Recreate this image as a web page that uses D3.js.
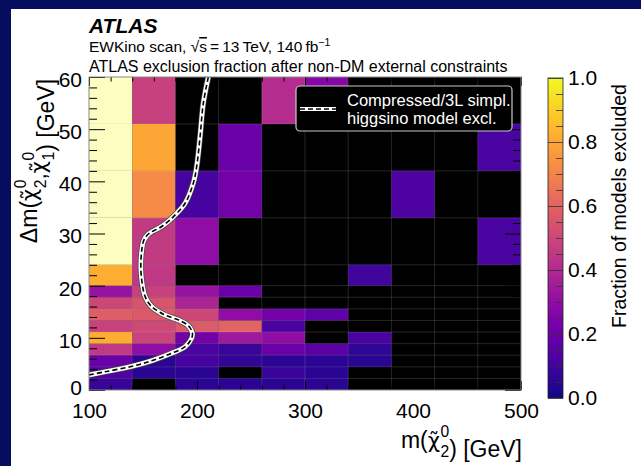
<!DOCTYPE html>
<html>
<head>
<meta charset="utf-8">
<script src="https://cdn.jsdelivr.net/npm/d3@7"></script>
<style>
  html, body { margin: 0; padding: 0; background: #060d5e; }
  svg { display: block; }
  text { font-family: "Liberation Sans", Arial, Helvetica, sans-serif; fill: #000; }
</style>
</head>
<body>
<svg id="chart" width="641" height="466"></svg>
<script>
// Bin edges of the scan grid
const xEdges = [100, 140, 180, 220, 260, 300, 340, 380, 420, 460, 500];
const yEdges = [0, 2.22, 4.44, 6.67, 8.89, 11.11, 13.33, 15.56, 17.78, 20, 24, 33, 42, 51, 60];

// Fraction of models excluded, one list per m(chi2) bin, Δm bins from bottom to top (null = no models)
const frac100 = [0.08, 0.14, 0.20, 0.45, 0.82, 0.48, 0.58, 0.50, 0.32, 0.82, 1, 1, 1, 1];
const frac140 = [null, 0.05, 0.05, 0.30, 0.49, 0.51, 0.56, 0.55, 0.48, 0.45, 0.46, 0.72, 0.80, 0.48];
const frac180 = [0.05, 0.05, 0.11, 0.12, 0.22, 0.57, 0.50, 0.38, 0.32, null, 0.30, 0.11, null, null];
const frac220 = [0.05, null, 0.07, 0.08, 0.34, 0.60, 0.30, null, 0.20, null, null, 0.22, 0.20, null];
const frac260 = [0.05, 0.08, 0.05, 0.20, 0.30, 0.12, 0.22, null, null, null, null, null, null, 0.41];
const frac300 = [0.05, 0.05, 0.05, 0.16, null, null, 0.17, null, null, null, null, null, null, 0.27];
const frac340 = [null, null, 0.05, 0.06, 0.12, null, null, null, null, 0.10, null, null, null, null];
const frac380 = [null, null, null, null, null, null, null, null, null, null, null, 0.13, null, null];
const frac420 = [null, null, null, null, null, null, null, null, null, null, null, null, null, null];
const frac460 = [null, null, null, null, null, null, null, null, null, null, 0.12, null, 0.12, null];
const fractions = [frac100, frac140, frac180, frac220, frac260, frac300, frac340, frac380, frac420, frac460];

// Compressed/3L simplified higgsino exclusion contour: [m(chi2), Δm]
const contour = [
  [100, 2.9], [115, 3.5], [139, 4.5], [158, 5.6], [176, 7.0], [189, 8.3], [195, 9.9],
  [195.7, 11.0], [192, 12.3], [183, 13.4], [170, 14.4], [158, 16.0], [152, 17.9],
  [149, 20.8], [148, 23.3], [148.6, 26.3], [150.6, 28.6], [155, 29.9], [167, 31.3],
  [178, 33.2], [189, 35.8], [196.5, 39.6], [199.7, 42.8], [202.8, 48.5], [205.8, 54.9], [210.5, 60]
];

// Tick values
const xMajorTicks = [100, 200, 300, 400, 500];
const yMajorTicks = [0, 10, 20, 30, 40, 50, 60];
const zMajorTicks = [0, 0.2, 0.4, 0.6, 0.8, 1.0];

const svg = d3.select("#chart");
const W = 641, H = 466;
const plot = { left: 89, right: 521, top: 77, bottom: 390 };
const bar = { left: 548, right: 563, top: 78, bottom: 398 };
const tickFont = 21;

// page panel
svg.append("rect").attr("x", 0).attr("y", 0).attr("width", W).attr("height", H).attr("fill", "#060d5e");
svg.append("rect").attr("x", 11).attr("y", 9).attr("width", W - 11).attr("height", H - 9).attr("fill", "#fff");

const x = d3.scaleLinear().domain([100, 500]).range([plot.left, plot.right]);
const y = d3.scaleLinear().domain([0, 60]).range([plot.bottom, plot.top]);
const z = d3.scaleSequential(d3.interpolatePlasma).domain([0, 1]);
// fully excluded bins are shown in a pale tint
const cellFill = v => v >= 1 ? d3.interpolateRgb(z(v), "#fff")(0.72) : z(v);

// plot background (empty bins)
svg.append("rect")
  .attr("x", plot.left).attr("y", plot.top)
  .attr("width", plot.right - plot.left).attr("height", plot.bottom - plot.top)
  .attr("fill", "#000");

const cells = [];
fractions.forEach((col, i) => col.forEach((v, j) => {
  if (v !== null) cells.push({ x0: xEdges[i], x1: xEdges[i + 1], y0: yEdges[j], y1: yEdges[j + 1], v });
}));

svg.append("g").selectAll("rect").data(cells).join("rect")
  .attr("x", d => x(d.x0))
  .attr("y", d => y(d.y1))
  .attr("width", d => x(d.x1) - x(d.x0))
  .attr("height", d => y(d.y0) - y(d.y1))
  .attr("fill", d => cellFill(d.v));

// bin-edge grid
const grid = svg.append("g").attr("stroke", "#fff").attr("stroke-opacity", 0.14).attr("stroke-width", 1);
xEdges.slice(1, -1).forEach(e => grid.append("line")
  .attr("x1", x(e)).attr("x2", x(e)).attr("y1", plot.top).attr("y2", plot.bottom));
yEdges.slice(1, -1).forEach(e => grid.append("line")
  .attr("x1", plot.left).attr("x2", plot.right).attr("y1", y(e)).attr("y2", y(e)));

// exclusion contour
const line = d3.line().x(d => x(d[0])).y(d => y(d[1])).curve(d3.curveCatmullRom.alpha(0.5));
svg.append("path").datum(contour).attr("d", line)
  .attr("fill", "none").attr("stroke", "#444").attr("stroke-width", 6);
svg.append("path").datum(contour).attr("d", line)
  .attr("fill", "none").attr("stroke", "#fff").attr("stroke-width", 4.6);
svg.append("path").datum(contour).attr("d", line)
  .attr("fill", "none").attr("stroke", "#000").attr("stroke-width", 1.6)
  .attr("stroke-dasharray", "5,3");

// axes: ticks inside on all four sides
function styleAxis(g) {
  g.select(".domain").remove();
  g.selectAll(".tick line").attr("stroke", "#000").attr("stroke-width", 1);
  g.selectAll(".tick text").attr("font-size", tickFont).attr("fill", "#000")
    .attr("font-family", "\"Liberation Sans\", Arial, sans-serif");
}
const xMinor = d3.range(100, 501, 20).filter(v => !xMajorTicks.includes(v));
const yMinor = d3.range(0, 61, 2).filter(v => !yMajorTicks.includes(v));

svg.append("g").attr("transform", `translate(0,${plot.bottom})`)
  .call(d3.axisBottom(x).tickValues(xMajorTicks).tickSize(-9).tickPadding(8.8).tickFormat(d3.format("d")))
  .call(styleAxis)
  .call(g => g.selectAll(".tick text").attr("dy", "0.9em"));
svg.append("g").attr("transform", `translate(0,${plot.bottom})`)
  .call(d3.axisBottom(x).tickValues(xMinor).tickSize(-4.5).tickFormat(""))
  .call(styleAxis);
svg.append("g").attr("transform", `translate(0,${plot.top})`)
  .call(d3.axisTop(x).tickValues(xMajorTicks).tickSize(-9).tickFormat(""))
  .call(styleAxis);
svg.append("g").attr("transform", `translate(0,${plot.top})`)
  .call(d3.axisTop(x).tickValues(xMinor).tickSize(-4.5).tickFormat(""))
  .call(styleAxis);

// the corner label "0" sits a little higher to clear the "100" below it
svg.append("g").attr("transform", `translate(${plot.left},0)`)
  .call(d3.axisLeft(y).tickValues(yMajorTicks).tickSize(-16).tickPadding(7).tickFormat(d3.format("d")))
  .call(styleAxis)
  .call(g => g.selectAll(".tick text").attr("dy", d => d === 0 ? "0.2em" : "0.45em"));
svg.append("g").attr("transform", `translate(${plot.left},0)`)
  .call(d3.axisLeft(y).tickValues(yMinor).tickSize(-8).tickFormat(""))
  .call(styleAxis);
svg.append("g").attr("transform", `translate(${plot.right},0)`)
  .call(d3.axisRight(y).tickValues(yMajorTicks).tickSize(-16).tickFormat(""))
  .call(styleAxis);
svg.append("g").attr("transform", `translate(${plot.right},0)`)
  .call(d3.axisRight(y).tickValues(yMinor).tickSize(-8).tickFormat(""))
  .call(styleAxis);

// frame
svg.append("rect")
  .attr("x", plot.left).attr("y", plot.top)
  .attr("width", plot.right - plot.left).attr("height", plot.bottom - plot.top)
  .attr("fill", "none").attr("stroke", "#8a8a8a").attr("stroke-width", 1);

// legend
const lg = svg.append("g");
lg.append("rect").attr("x", 296).attr("y", 86).attr("width", 216).attr("height", 45).attr("rx", 4)
  .attr("fill", "#000").attr("stroke", "#c8c8c8").attr("stroke-width", 1.2);
lg.append("line").attr("x1", 300).attr("x2", 336).attr("y1", 109).attr("y2", 109)
  .attr("stroke", "#fff").attr("stroke-width", 4);
lg.append("line").attr("x1", 300).attr("x2", 336).attr("y1", 109).attr("y2", 109)
  .attr("stroke", "#000").attr("stroke-width", 1.4).attr("stroke-dasharray", "5,3");
lg.append("text").attr("x", 347).attr("y", 106).attr("font-size", 16.5).style("fill", "#fff")
  .text("Compressed/3L simpl.");
lg.append("text").attr("x", 347).attr("y", 124).attr("font-size", 16.5).style("fill", "#fff")
  .text("higgsino model excl.");

// colour bar
const defs = svg.append("defs");
const grad = defs.append("linearGradient").attr("id", "zgrad")
  .attr("x1", 0).attr("x2", 0).attr("y1", 1).attr("y2", 0);
d3.range(0, 1.0001, 0.05).forEach(t => grad.append("stop")
  .attr("offset", t).attr("stop-color", z(t)));
svg.append("rect").attr("x", bar.left).attr("y", bar.top)
  .attr("width", bar.right - bar.left).attr("height", bar.bottom - bar.top)
  .attr("fill", "url(#zgrad)").attr("stroke", "#222").attr("stroke-width", 0.8);
const zs = d3.scaleLinear().domain([0, 1]).range([bar.bottom, bar.top]);
const zMinor = d3.range(0, 1.0001, 0.05).filter(v => !zMajorTicks.some(m => Math.abs(m - v) < 1e-6));
svg.append("g").attr("transform", `translate(${bar.right},0)`)
  .call(d3.axisRight(zs).tickValues(zMajorTicks).tickSize(-15).tickPadding(5).tickFormat(d3.format(".1f")))
  .call(styleAxis)
  .call(g => g.selectAll(".tick line").attr("stroke", "#333").attr("stroke-opacity", 0.8));
svg.append("g").attr("transform", `translate(${bar.right},0)`)
  .call(d3.axisRight(zs).tickValues(zMinor).tickSize(-7).tickFormat(""))
  .call(styleAxis)
  .call(g => g.selectAll(".tick line").attr("stroke", "#333").attr("stroke-opacity", 0.8));

svg.append("text")
  .attr("transform", "translate(626,206) rotate(-90)")
  .attr("text-anchor", "middle").attr("font-size", 19.5)
  .text("Fraction of models excluded");

// header texts
svg.append("text").attr("x", 89).attr("y", 33)
  .attr("font-size", 21).attr("font-weight", "bold").attr("font-style", "italic")
  .text("ATLAS");

const hdr = svg.append("text").attr("x", 89).attr("y", 52).attr("font-size", 15.5);
hdr.append("tspan").text("EWKino scan, \u221A");
hdr.append("tspan").style("text-decoration", "overline").text("s");
hdr.append("tspan").text("\u2009=\u200913\u2009TeV, 140\u2009fb");
hdr.append("tspan").attr("dy", -6).attr("font-size", 10.5).text("\u22121");

svg.append("text").attr("x", 89).attr("y", 72).attr("font-size", 16)
  .text("ATLAS exclusion fraction after non-DM external constraints");

// neutralino symbol: chi with combining tilde, stacked superscript 0 and subscript index
function neutralino(t, sub, fs) {
  t.append("tspan").style("font-family", "\"DejaVu Sans\", sans-serif").attr("font-size", fs * 0.92)
    .text("\u03C7\u0303");
  t.append("tspan").attr("dx", 0.02 * fs).attr("dy", -0.5 * fs).attr("font-size", fs * 0.68).text("0");
  t.append("tspan").attr("dx", -0.378 * fs).attr("dy", 0.88 * fs).attr("font-size", fs * 0.68).text(sub);
  t.append("tspan").attr("dy", -0.38 * fs).text("");
}

const fsx = 23;
const xt = svg.append("text").attr("x", 522).attr("y", 448).attr("text-anchor", "end").attr("font-size", fsx);
xt.append("tspan").text("m(");
neutralino(xt, "2", fsx);
xt.append("tspan").text(") [GeV]");

const fsy = 23;
const yt = svg.append("text").attr("transform", "translate(37,161) rotate(-90)")
  .attr("text-anchor", "middle").attr("font-size", fsy);
yt.append("tspan").text("\u0394m(");
neutralino(yt, "2", fsy);
yt.append("tspan").text(",");
neutralino(yt, "1", fsy);
yt.append("tspan").text(") [GeV]");
</script>
</body>
</html>
